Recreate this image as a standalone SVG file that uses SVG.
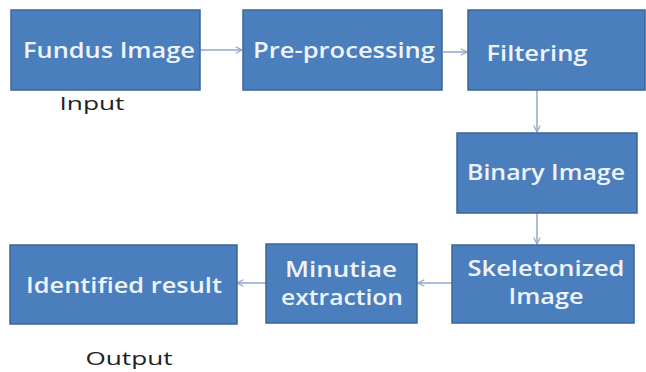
<svg xmlns="http://www.w3.org/2000/svg" width="646" height="372" viewBox="0 0 646 372">
<defs>
<style>
.box{fill:#4a7ebd;stroke:#3a659a;stroke-width:1.5}
.t{font-family:"Open Sans","Liberation Sans",sans-serif;font-weight:600;font-size:22px;fill:#eef3fb;text-anchor:middle}
.lbl{font-family:"Open Sans","Liberation Sans",sans-serif;font-size:18px;fill:#222;text-anchor:middle}
.c{stroke:#8ea8cc;stroke-width:1.5;fill:none}
</style>
<marker id="ah" viewBox="0 0 10 10" refX="9" refY="5" markerWidth="8" markerHeight="8" markerUnits="userSpaceOnUse" orient="auto">
<path d="M1,1 L9,5 L1,9" fill="none" stroke="#8ea8cc" stroke-width="1.5"/>
</marker>
</defs>
<rect width="646" height="372" fill="#ffffff"/>
<g id="connectors">
<line class="c" x1="200" y1="50" x2="242" y2="50" marker-end="url(#ah)"/>
<line class="c" x1="443" y1="52" x2="467" y2="52" marker-end="url(#ah)"/>
<line class="c" x1="537" y1="90" x2="537" y2="132" marker-end="url(#ah)"/>
<line class="c" x1="537" y1="213" x2="537" y2="244" marker-end="url(#ah)"/>
<line class="c" x1="452" y1="283" x2="418" y2="283" marker-end="url(#ah)"/>
<line class="c" x1="266" y1="283" x2="237" y2="283" marker-end="url(#ah)"/>
</g>
<g id="fundus">
<rect class="box" x="11" y="10" width="189" height="80"/>
<text class="t" x="109" y="58" textLength="172" lengthAdjust="spacingAndGlyphs">Fundus Image</text>
</g>
<g id="input-label">
<text class="lbl" x="92" y="110" textLength="65" lengthAdjust="spacingAndGlyphs">Input</text>
</g>
<g id="preprocessing">
<rect class="box" x="243" y="10" width="199" height="80"/>
<text class="t" x="344" y="58" textLength="182" lengthAdjust="spacingAndGlyphs">Pre-processing</text>
</g>
<g id="filtering">
<rect class="box" x="468" y="10" width="177" height="80"/>
<text class="t" x="537" y="61" textLength="101" lengthAdjust="spacingAndGlyphs">Filtering</text>
</g>
<g id="binary">
<rect class="box" x="457" y="133" width="180" height="80"/>
<text class="t" x="546" y="180" textLength="158" lengthAdjust="spacingAndGlyphs">Binary Image</text>
</g>
<g id="skeletonized">
<rect class="box" x="452" y="245" width="182" height="78"/>
<text class="t" x="546" y="276" textLength="157" lengthAdjust="spacingAndGlyphs">Skeletonized</text>
<text class="t" x="546" y="304" textLength="75" lengthAdjust="spacingAndGlyphs">Image</text>
</g>
<g id="minutiae">
<rect class="box" x="266" y="244" width="151" height="79"/>
<text class="t" x="341" y="277" textLength="112" lengthAdjust="spacingAndGlyphs">Minutiae</text>
<text class="t" x="342" y="305" textLength="122" lengthAdjust="spacingAndGlyphs">extraction</text>
</g>
<g id="identified">
<rect class="box" x="10" y="245" width="227" height="79"/>
<text class="t" x="124" y="293" textLength="196" lengthAdjust="spacingAndGlyphs">Identified result</text>
</g>
<g id="output-label">
<text class="lbl" x="129" y="365" textLength="87" lengthAdjust="spacingAndGlyphs">Output</text>
</g>
</svg>
